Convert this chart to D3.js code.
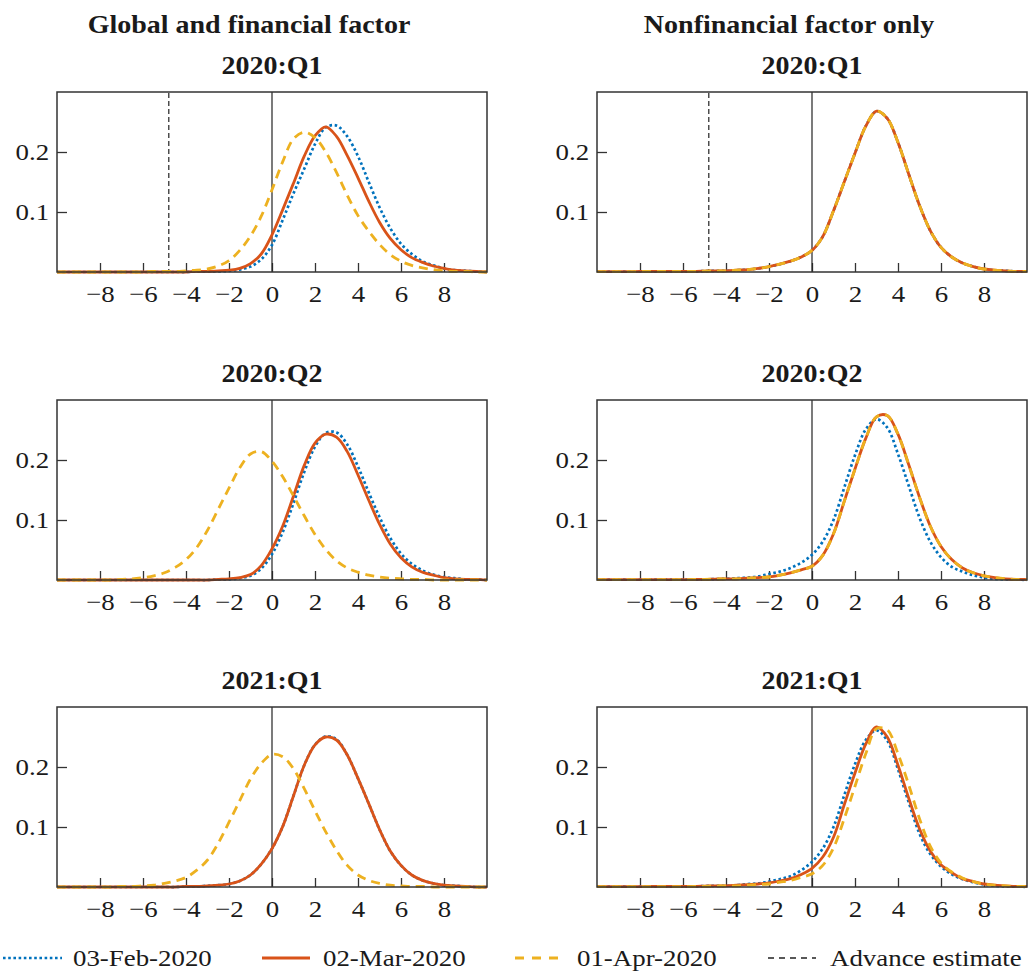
<!DOCTYPE html>
<html><head><meta charset="utf-8">
<script src="https://cdn.jsdelivr.net/npm/d3@7"></script>
<style>body{margin:0;background:#fff} svg{display:block}</style>
</head><body><svg id="c" width="1029" height="972"></svg>
<script>
// ---------- DATA ----------
const xGrid = [-10,-9.5,-9,-8.5,-8,-7.5,-7,-6.5,-6,-5.5,-5,-4.5,-4,-3.5,-3,-2.5,-2,-1.5,-1,-0.5,0,0.5,1,1.5,2,2.5,3,3.5,4,4.5,5,5.5,6,6.5,7,7.5,8,8.5,9,9.5,10];
const columnTitles = ["Global and financial factor", "Nonfinancial factor only"];
const rowTitles = ["2020:Q1", "2020:Q2", "2021:Q1"];
const seriesNames = ["03-Feb-2020", "02-Mar-2020", "01-Apr-2020"];
const advanceLabel = "Advance estimate";
const advanceEstimate = -4.8;
const xTicks = [-8,-6,-4,-2,0,2,4,6,8];
const xTickLabels = ["\u22128","\u22126","\u22124","\u22122","0","2","4","6","8"];
const yTicks = [0.1, 0.2];
const yTickLabels = ["0.1", "0.2"];

// Global and financial factor
const gfQ1Feb = [0,0,0,0,0,0,0,0,0,0,0,0,0,0.001,0.001,0.001,0.002,0.004,0.009,0.021,0.045,0.087,0.131,0.172,0.213,0.241,0.244,0.226,0.193,0.150,0.108,0.073,0.047,0.030,0.018,0.011,0.006,0.003,0.002,0.001,0];
const gfQ1Mar = [0,0,0,0,0,0,0,0,0,0,0,0,0,0.001,0.001,0.002,0.003,0.006,0.014,0.030,0.062,0.104,0.148,0.193,0.227,0.242,0.226,0.194,0.157,0.118,0.083,0.056,0.037,0.024,0.016,0.010,0.006,0.003,0.002,0.001,0];
const gfQ1Apr = [0,0,0,0,0,0,0,0,0,0.001,0.001,0.001,0.002,0.003,0.005,0.010,0.019,0.036,0.060,0.093,0.137,0.184,0.222,0.233,0.224,0.200,0.166,0.128,0.094,0.068,0.046,0.029,0.018,0.011,0.007,0.004,0.002,0.001,0.001,0,0];
const gfQ2Feb = [0,0,0,0,0,0,0,0,0,0,0,0,0,0,0,0.001,0.001,0.003,0.007,0.019,0.043,0.080,0.128,0.180,0.222,0.245,0.246,0.226,0.189,0.146,0.105,0.070,0.044,0.027,0.016,0.009,0.005,0.003,0.001,0.001,0];
const gfQ2Mar = [0,0,0,0,0,0,0,0,0,0,0,0,0,0,0,0.001,0.002,0.004,0.009,0.024,0.052,0.090,0.140,0.191,0.228,0.243,0.238,0.214,0.175,0.133,0.093,0.060,0.037,0.022,0.013,0.008,0.004,0.002,0.001,0.001,0];
const gfQ2Apr = [0,0,0,0,0,0,0.001,0.002,0.004,0.007,0.012,0.021,0.034,0.054,0.083,0.118,0.153,0.187,0.210,0.214,0.198,0.172,0.140,0.107,0.076,0.051,0.032,0.020,0.013,0.008,0.005,0.003,0.002,0.001,0.001,0,0,0,0,0,0];
const gfQ3Feb = [0,0,0,0,0,0,0,0,0,0,0,0,0.001,0.001,0.002,0.003,0.005,0.010,0.020,0.038,0.064,0.101,0.152,0.203,0.237,0.251,0.246,0.220,0.181,0.139,0.096,0.060,0.036,0.020,0.011,0.006,0.003,0.002,0.001,0,0];
const gfQ3Mar = [0,0,0,0,0,0,0,0,0,0,0,0,0.001,0.001,0.002,0.003,0.005,0.010,0.020,0.038,0.064,0.101,0.152,0.203,0.237,0.250,0.245,0.220,0.181,0.139,0.096,0.060,0.036,0.020,0.011,0.006,0.003,0.002,0.001,0,0];
const gfQ3Apr = [0,0,0,0,0,0,0.001,0.001,0.002,0.003,0.006,0.010,0.016,0.028,0.045,0.073,0.108,0.144,0.180,0.206,0.221,0.217,0.197,0.164,0.127,0.092,0.061,0.036,0.020,0.011,0.006,0.003,0.002,0.001,0.001,0,0,0,0,0,0];

// Nonfinancial factor only
const nfQ1Feb = [0.0005,0.0005,0.0005,0.0005,0.001,0.001,0.001,0.001,0.001,0.001,0.0015,0.002,0.002,0.003,0.004,0.006,0.009,0.013,0.018,0.025,0.036,0.059,0.102,0.150,0.198,0.243,0.268,0.256,0.216,0.163,0.111,0.069,0.041,0.025,0.015,0.009,0.005,0.003,0.002,0.001,0.001];
const nfQ1Mar = [0.0005,0.0005,0.0005,0.0005,0.001,0.001,0.001,0.001,0.001,0.001,0.0015,0.002,0.002,0.003,0.004,0.006,0.009,0.013,0.018,0.025,0.036,0.059,0.102,0.150,0.198,0.243,0.268,0.256,0.216,0.163,0.111,0.069,0.041,0.025,0.015,0.009,0.005,0.003,0.002,0.001,0.001];
const nfQ1Apr = [0.0005,0.0005,0.0005,0.0005,0.001,0.001,0.001,0.001,0.001,0.001,0.0015,0.002,0.002,0.003,0.004,0.006,0.009,0.013,0.018,0.025,0.036,0.059,0.102,0.150,0.198,0.243,0.268,0.256,0.216,0.163,0.111,0.069,0.041,0.025,0.015,0.009,0.005,0.003,0.002,0.001,0.001];
const nfQ2Feb = [0.0005,0.0005,0.0005,0.0005,0.0005,0.0005,0.0005,0.0005,0.0005,0.001,0.001,0.0015,0.002,0.003,0.004,0.006,0.010,0.014,0.020,0.029,0.042,0.064,0.100,0.154,0.208,0.251,0.268,0.254,0.210,0.157,0.104,0.064,0.038,0.022,0.014,0.008,0.004,0.002,0.001,0.001,0];
const nfQ2Mar = [0.0005,0.0005,0.0005,0.0005,0.0005,0.0005,0.0005,0.0005,0.0005,0.001,0.001,0.0015,0.002,0.002,0.003,0.004,0.005,0.008,0.012,0.017,0.023,0.041,0.077,0.131,0.185,0.236,0.272,0.274,0.243,0.192,0.138,0.090,0.056,0.034,0.020,0.012,0.007,0.004,0.002,0.001,0.001];
const nfQ2Apr = [0.0005,0.0005,0.0005,0.0005,0.0005,0.0005,0.0005,0.0005,0.0005,0.001,0.001,0.0015,0.002,0.002,0.003,0.004,0.005,0.008,0.012,0.017,0.023,0.041,0.077,0.131,0.185,0.236,0.272,0.274,0.243,0.192,0.138,0.090,0.056,0.034,0.020,0.012,0.007,0.004,0.002,0.001,0.001];
const nfQ3Feb = [0.0005,0.0005,0.0005,0.0005,0.0005,0.001,0.001,0.001,0.001,0.001,0.0015,0.002,0.002,0.003,0.005,0.006,0.009,0.013,0.018,0.028,0.042,0.064,0.100,0.153,0.205,0.245,0.261,0.244,0.196,0.141,0.089,0.055,0.034,0.021,0.013,0.008,0.004,0.002,0.001,0.001,0];
const nfQ3Mar = [0.0005,0.0005,0.0005,0.0005,0.0005,0.001,0.001,0.001,0.001,0.001,0.0015,0.002,0.002,0.003,0.004,0.005,0.007,0.010,0.014,0.021,0.031,0.050,0.083,0.137,0.190,0.238,0.267,0.250,0.203,0.148,0.097,0.060,0.037,0.024,0.014,0.009,0.005,0.003,0.002,0.001,0.001];
const nfQ3Apr = [0.0005,0.0005,0.0005,0.0005,0.0005,0.0005,0.0005,0.0005,0.0005,0.001,0.001,0.0015,0.002,0.002,0.003,0.004,0.005,0.008,0.011,0.016,0.022,0.036,0.065,0.114,0.168,0.222,0.264,0.262,0.222,0.170,0.114,0.068,0.040,0.025,0.015,0.009,0.005,0.003,0.002,0.001,0.001];

// ---------- LAYOUT ----------
const svg = d3.select("#c");
const FONT = "'Liberation Serif','Times New Roman',Times,serif";
const SX = 1.12;               // horizontal stretch of the typeface in the reference
const colLeft = [57, 597];
const rowTop = [92, 400, 707];
const pw = 430, ph = 180;
const colors = ["#0072BD", "#D95319", "#EDB120"];
const dashes = ["2.6,2.6", null, "9,6"];
const widths = [2.7, 2.8, 2.8];

const panels = [
  [[gfQ1Feb, gfQ1Mar, gfQ1Apr], [gfQ2Feb, gfQ2Mar, gfQ2Apr], [gfQ3Feb, gfQ3Mar, gfQ3Apr]],
  [[nfQ1Feb, nfQ1Mar, nfQ1Apr], [nfQ2Feb, nfQ2Mar, nfQ2Apr], [nfQ3Feb, nfQ3Mar, nfQ3Apr]]
];

const x = d3.scaleLinear().domain([-10, 10]).range([0, pw]);
const y = d3.scaleLinear().domain([0, 0.3]).range([ph, 0]);
const line = d3.line().x((d, i) => x(xGrid[i])).y(d => y(Math.max(0, d))).curve(d3.curveCatmullRom.alpha(0.5));

function stext(parent, tx, ty, str, anchor, size, weight) {
  return parent.append("text")
    .attr("transform", `translate(${tx},${ty}) scale(${SX},1)`)
    .attr("text-anchor", anchor)
    .attr("font-family", FONT)
    .attr("font-size", size)
    .attr("font-weight", weight || "normal")
    .attr("fill", "#1a1a1a")
    .text(str);
}

// column titles
stext(svg, 249, 33, columnTitles[0], "middle", 25, "bold");
stext(svg, 789, 33, columnTitles[1], "middle", 25, "bold");

colLeft.forEach((cx, ci) => {
  rowTop.forEach((ry, ri) => {
    const g = svg.append("g").attr("transform", `translate(${cx},${ry})`);
    stext(svg, cx + pw / 2, ry - 18, rowTitles[ri], "middle", 25, "bold");

    // x axis
    const xa = d3.axisBottom(x).tickValues(xTicks).tickSizeInner(-9).tickSizeOuter(0).tickPadding(13)
      .tickFormat(d => xTickLabels[xTicks.indexOf(d)]);
    const gx = g.append("g").attr("transform", `translate(0,${ph})`).call(xa);
    // y axis
    const ya = d3.axisLeft(y).tickValues(yTicks).tickSizeInner(-10).tickSizeOuter(0).tickPadding(7)
      .tickFormat(d => yTickLabels[yTicks.indexOf(d)]);
    const gy = g.append("g").call(ya);
    [gx, gy].forEach(a => {
      a.select(".domain").remove();
      a.selectAll(".tick line").attr("stroke", "#333").attr("stroke-width", 1.3);
      a.selectAll(".tick text").attr("font-family", FONT).attr("font-size", 24).attr("fill", "#1a1a1a")
        .attr("transform", `scale(${SX},1)`);
    });

    // zero line
    g.append("line").attr("x1", x(0)).attr("x2", x(0)).attr("y1", 0).attr("y2", ph)
      .attr("stroke", "#222").attr("stroke-width", 1.2);
    // advance estimate
    if (ri === 0) {
      g.append("line").attr("x1", x(advanceEstimate)).attr("x2", x(advanceEstimate)).attr("y1", 1).attr("y2", ph)
        .attr("stroke", "#222").attr("stroke-width", 1.2).attr("stroke-dasharray", "5,3");
    }
    // curves
    panels[ci][ri].forEach((vals, si) => {
      g.append("path").datum(vals).attr("d", line)
        .attr("fill", "none").attr("stroke", colors[si]).attr("stroke-width", widths[si])
        .attr("stroke-dasharray", dashes[si]);
    });
    // frame
    g.append("rect").attr("x", 0).attr("y", 0).attr("width", pw).attr("height", ph)
      .attr("fill", "none").attr("stroke", "#333").attr("stroke-width", 1.5);
  });
});

// legend
const legendItems = [
  {label: seriesNames[0], color: colors[0], dash: "2.6,2.6", w: 2.7, x1: 3, x2: 62, tx: 73},
  {label: seriesNames[1], color: colors[1], dash: null, w: 3, x1: 262, x2: 310, tx: 323},
  {label: seriesNames[2], color: colors[2], dash: "9,8", w: 3, x1: 515, x2: 566, tx: 577},
  {label: advanceLabel, color: "#222", dash: "6,5", w: 1.3, x1: 768, x2: 816, tx: 830}
];
const ly = 958;
legendItems.forEach(it => {
  svg.append("line").attr("x1", it.x1).attr("x2", it.x2).attr("y1", ly).attr("y2", ly)
    .attr("stroke", it.color).attr("stroke-width", it.w).attr("stroke-dasharray", it.dash);
  stext(svg, it.tx, ly + 8, it.label, "start", 24, "normal");
});
</script></body></html>
